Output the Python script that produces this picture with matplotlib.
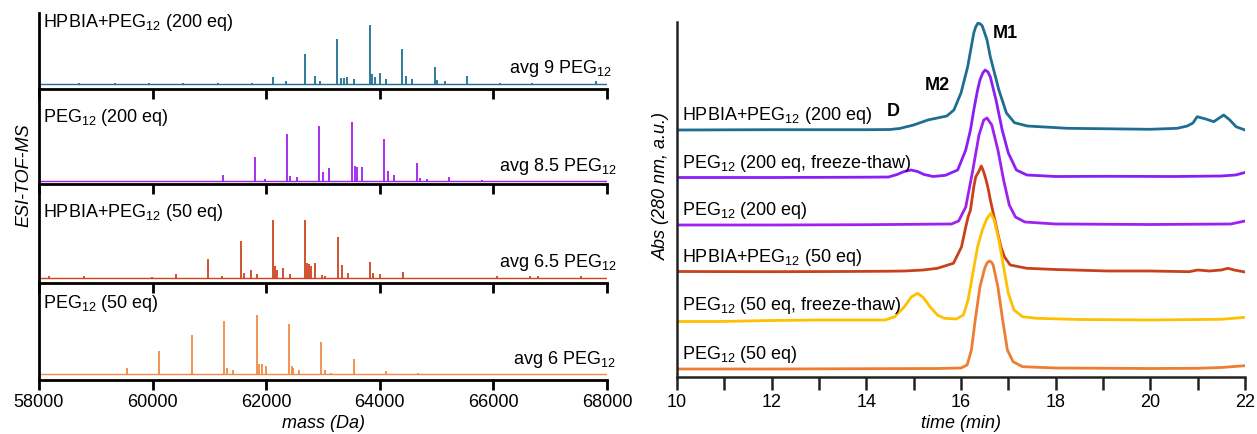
import matplotlib
matplotlib.use("Agg")
import matplotlib.pyplot as plt
from matplotlib.ticker import MultipleLocator

plt.rcParams['font.family'] = ['Liberation Sans', 'DejaVu Sans']
plt.rcParams['mathtext.fontset'] = 'custom'
plt.rcParams['mathtext.rm'] = 'Liberation Sans'
plt.rcParams['mathtext.it'] = 'Liberation Sans:italic'
plt.rcParams['mathtext.bf'] = 'Liberation Sans:bold'

# ---------------- ESI-TOF-MS deconvoluted spectra (relative intensity, %) ----------------
ms_labels = [r'HPBIA+PEG$_{12}$ (200 eq)', r'PEG$_{12}$ (200 eq)',
             r'HPBIA+PEG$_{12}$ (50 eq)', r'PEG$_{12}$ (50 eq)']
ms_avg = [r'avg 9 PEG$_{12}$', r'avg 8.5 PEG$_{12}$',
          r'avg 6.5 PEG$_{12}$', r'avg 6 PEG$_{12}$']
ms_colors = ['#1f6f94', '#a020f0', '#cc4420', '#f08a46']

hpbia200_mass = [58710, 59345, 59930, 60530, 61145, 61745, 62114, 62349, 62683, 62865,
                 62947, 63252, 63310, 63375, 63428, 63545, 63822, 63868, 63921, 64004,
                 64110, 64396, 64456, 64561, 64966, 65001, 65148, 65540, 66116, 66673, 67800]
hpbia200_int = [2.5, 2.5, 2, 2, 2.5, 2.5, 12.4, 5, 50, 13.5,
                5, 76, 10, 10, 12, 8.5, 100, 17, 12, 18.5,
                8.5, 59, 13.5, 8.5, 29, 7, 5, 13.5, 2, 2.5, 5]

peg200_mass = [61231, 61803, 61979, 62372, 62419, 62548, 62935, 62993, 63111, 63511,
               63563, 63593, 63687, 64079, 64139, 64250, 64649, 64708, 64826, 65218, 65794]
peg200_int = [10, 41, 3.4, 79, 8.4, 6.7, 92, 15, 22, 100,
              25, 24, 24, 71, 17, 10, 30, 5, 3.4, 6.7, 1.7]

hpbia50_mass = [58183, 58789, 59993, 60411, 60981, 61216, 61551, 61615, 61727, 61833,
                62114, 62155, 62196, 62301, 62419, 62689, 62713, 62753, 62789, 62859,
                62977, 63035, 63258, 63329, 63435, 63833, 63886, 64004, 64403, 66058,
                66644, 66791, 67540]
hpbia50_int = [3.4, 3.4, 1.7, 6.9, 33, 3.4, 64, 8.6, 13.7, 6.9,
               100, 20.6, 13.7, 17, 6.9, 100, 27, 24, 20.6, 25.7,
               5, 3.4, 70, 22, 8.6, 28, 8.6, 6.9, 10.8, 3.4,
               3.4, 3.4, 3.4]

peg50_mass = [58990, 59544, 60118, 60688, 61257, 61304, 61421, 61832, 61879, 61920,
              61996, 62401, 62449, 62477, 62577, 62965, 63035, 63141, 63546, 64109, 64678]
peg50_int = [1, 10, 39, 66, 90, 10, 6.7, 100, 17, 17,
             13.5, 84, 13.5, 10, 6.7, 54, 6.7, 2.5, 25, 6.2, 1.7]

ms_mass = [hpbia200_mass, peg200_mass, hpbia50_mass, peg50_mass]
ms_int = [hpbia200_int, peg200_int, hpbia50_int, peg50_int]

# ---------------- SEC chromatograms (Abs 280 nm, a.u.) ----------------
sec_labels = [r'HPBIA+PEG$_{12}$ (200 eq)', r'PEG$_{12}$ (200 eq, freeze-thaw)',
              r'PEG$_{12}$ (200 eq)', r'HPBIA+PEG$_{12}$ (50 eq)',
              r'PEG$_{12}$ (50 eq, freeze-thaw)', r'PEG$_{12}$ (50 eq)']
sec_colors = ['#1e6e93', '#8a1ff5', '#a020f0', '#c8411b', '#ffc000', '#ed7d31']
sec_offsets = [239, 191, 144, 97, 49, 0]

blue_t = [10.0, 12.0, 14.0, 14.5, 14.7, 15.0, 15.3, 15.7, 15.85, 16.0, 16.14, 16.27,
          16.31, 16.36, 16.41, 16.45, 16.55, 16.62, 16.8, 16.96, 17.13, 17.4, 18.25, 20.0,
          20.57, 20.78, 20.9, 20.99, 21.17, 21.34, 21.55, 21.68, 21.81, 22.0]
blue_a = [0, 0.3, 0.3, 0.5, 1.5, 5, 10, 14, 20, 37, 63, 97,
          103, 107, 106, 104, 90, 73, 40, 17, 7.3, 4, 1.7, 0.7,
          1.7, 4, 7, 13.3, 11, 8.3, 15, 10, 3.3, 0]

purple_ft_t = [10.0, 12.0, 14.0, 14.47, 14.65, 14.8, 14.94, 15.08, 15.22, 15.41, 15.67,
               15.93, 16.1, 16.2, 16.27, 16.35, 16.4, 16.46, 16.51, 16.57, 16.62, 16.74,
               16.87, 17.0, 17.17, 17.39, 18.0, 19.1, 20.5, 21.5, 21.8, 22.0]
purple_ft_a = [0.5, 0.5, 0.8, 1, 3.5, 6.5, 8, 6.5, 3.5, 1.5, 2.7,
               8, 28, 48, 68, 88, 98, 105, 108, 106, 101, 78,
               48, 25, 8, 3, 1.5, 1.7, 1.5, 2, 3, 5.5]

purple_t = [10.0, 12.0, 14.0, 15.8, 15.95, 16.1, 16.25, 16.38, 16.48, 16.55, 16.65,
            16.78, 16.9, 17.02, 17.15, 17.35, 18.0, 20.0, 21.7, 22.0]
purple_a = [0, 0, 0.3, 1, 4, 18, 55, 90, 105, 107, 100,
            75, 45, 20, 8, 3, 1, 0.5, 1, 4]

red_t = [10.0, 12.0, 13.5, 14.5, 14.81, 15.2, 15.5, 15.84, 16.01, 16.1, 16.15, 16.2,
         16.23, 16.27, 16.31, 16.37, 16.43, 16.48, 16.53, 16.58, 16.62, 16.7, 16.78,
         16.85, 16.92, 17.04, 17.39, 18.0, 19.1, 20.0, 20.82, 21.0, 21.25, 21.5, 21.64,
         21.77, 22.0]
red_a = [0.5, 0.3, 0.5, 0.8, 1, 2, 3.7, 8.7, 25, 45, 55, 62,
         72, 85, 95, 100, 106, 100, 92, 82, 72, 55, 38,
         24, 15, 7, 3.7, 2.5, 1, 1, 0.3, 2, 1, 2, 3.7,
         2, 0]

yellow_t = [10.0, 10.9, 12.0, 13.0, 14.0, 14.4, 14.6, 14.8, 14.95, 15.08, 15.2, 15.35,
            15.5, 15.65, 15.9, 16.05, 16.15, 16.25, 16.35, 16.45, 16.55, 16.63, 16.7,
            16.8, 16.9, 17.0, 17.12, 17.3, 17.6, 18.5, 20.0, 21.5, 22.0]
yellow_a = [-1.5, -1.5, -0.5, 0, 0, 0, 3.3, 13, 23, 26.7, 22.7, 13,
            5, 1.7, 1, 5, 20, 46.7, 73, 90, 101.7, 106.7, 100,
            80, 53, 26.7, 10, 3.3, 1.7, 0.5, 0, 0.7, 2.7]

orange_t = [10.0, 12.0, 14.0, 15.5, 16.0, 16.13, 16.22, 16.3, 16.4, 16.5, 16.55, 16.6,
            16.64, 16.68, 16.78, 16.88, 16.98, 17.1, 17.3, 18.0, 20.0, 21.0, 21.5, 22.0]
orange_a = [0, 0, 0.3, 0.5, 1, 4, 19, 49, 82, 100.7, 106, 108,
            107, 104, 82, 49, 19, 7.3, 2.3, 1, 0.5, 0.7, 1.5, 3.3]

sec_t = [blue_t, purple_ft_t, purple_t, red_t, yellow_t, orange_t]
sec_a = [blue_a, purple_ft_a, purple_a, red_a, yellow_a, orange_a]

peak_names = ['M1', 'M2', 'D']
peak_name_t = [16.93, 15.51, 14.56]
peak_name_y = [335, 283, 257]

# ---------------- figure layout (pixel geometry) ----------------
W, H = 1257, 434
fig = plt.figure(figsize=(W / 100, H / 100), dpi=100)


def box(x0, y_top, x1, y_bot):
    return [x0 / W, 1 - y_bot / H, (x1 - x0) / W, (y_bot - y_top) / H]


FS = 13
panel_px = [(13, 89, 84), (89, 184, 181), (184, 283, 278.3), (283, 380, 374.3)]
peak_px = [59, 59.3, 58.3, 59.3]
label_base = [27, 122, 217, 308]
avg_base = [73, 171, 267, 364]
avg_right = [612, 617, 617, 616]

for i in range(4):
    top, bot, base = panel_px[i]
    ax = fig.add_axes(box(39, top, 607, bot))
    ax.set_facecolor('none')
    unit = peak_px[i] / 100.0
    ax.set_xlim(58000, 68000)
    ax.set_ylim(-(bot - base) / unit, (base - top) / unit)
    ax.axhline(0, color=ms_colors[i], lw=1.0)
    ax.vlines(ms_mass[i], 0, ms_int[i], color=ms_colors[i], lw=1.3)
    for s in ['top', 'right']:
        ax.spines[s].set_visible(False)
    ax.spines['left'].set_linewidth(2)
    ax.spines['bottom'].set_linewidth(2)
    ax.set_yticks([])
    ax.xaxis.set_major_locator(MultipleLocator(2000))
    ax.tick_params(axis='x', direction='out', length=7, width=2, labelsize=FS, pad=3)
    if i < 3:
        ax.tick_params(axis='x', labelbottom=False)
    else:
        ax.set_xlabel('mass (Da)', fontsize=FS, style='italic', labelpad=3)
    fig.text(43 / W, 1 - label_base[i] / H, ms_labels[i], fontsize=FS,
             ha='left', va='baseline')
    fig.text(avg_right[i] / W, 1 - avg_base[i] / H, ms_avg[i], fontsize=FS,
             ha='right', va='baseline')

fig.text(24 / W, 1 - 175 / H, 'ESI-TOF-MS', fontsize=FS, style='italic',
         rotation=90, ha='center', va='center')

# ---------------- SEC panel ----------------
ax = fig.add_axes(box(677, 21.7, 1245, 377))
ax.set_xlim(10, 22)
ax.set_ylim(-8, 347.3)
for t, a, off, c in zip(sec_t, sec_a, sec_offsets, sec_colors):
    ax.plot(t, [v + off for v in a], color=c, lw=2, solid_joinstyle='round')
for lab, off in zip(sec_labels, sec_offsets):
    ax.text(10.1, off + 10, lab, fontsize=FS, ha='left', va='baseline')
for name, t, y in zip(peak_names, peak_name_t, peak_name_y):
    ax.text(t, y, name, fontsize=FS, fontweight='bold', ha='center', va='center')

for s in ['top', 'right']:
    ax.spines[s].set_visible(False)
ax.spines['left'].set_linewidth(1.8)
ax.spines['bottom'].set_linewidth(1.8)
ax.spines['left'].set_color('#222222')
ax.spines['bottom'].set_color('#222222')
ax.set_yticks([])
ax.xaxis.set_major_locator(MultipleLocator(2))
ax.xaxis.set_minor_locator(MultipleLocator(1))
ax.tick_params(axis='x', which='both', direction='out', length=9, width=1.8,
               labelsize=FS, pad=3, color='#222222')
ax.set_xlabel('time (min)', fontsize=FS, style='italic', labelpad=3)
fig.text(661 / W, 1 - 186 / H, 'Abs (280 nm, a.u.)', fontsize=FS, style='italic',
         rotation=90, ha='center', va='center')

fig.savefig('out.png', dpi=100)
